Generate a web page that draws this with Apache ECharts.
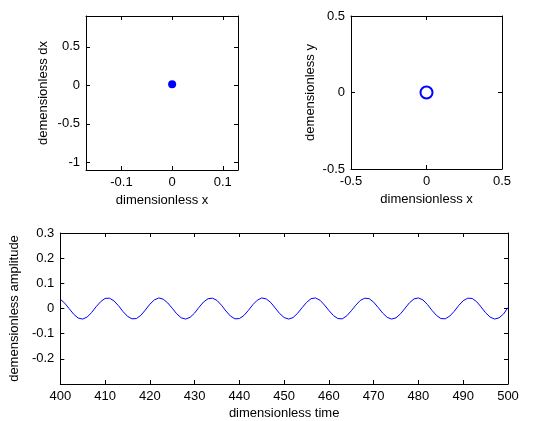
<!DOCTYPE html>
<html>
<head>
<meta charset="utf-8">
<script src="https://cdn.jsdelivr.net/npm/echarts@6/dist/echarts.min.js"></script>
<style>
  html, body { margin: 0; padding: 0; background: #fff; }
  #chart { width: 543px; height: 421px; }
</style>
</head>
<body>
<div id="chart"></div>
<script>
// phase plane (x, dx) - the trajectory sits in one spot
const phasePoint = [[0, 0.015]];
const phaseXTicks = [-0.1, 0, 0.1];
const phaseYTicks = [-1, -0.5, 0, 0.5];

// orbit plane (x, y)
const orbitPoint = [[0, 0]];

// time history at every time unit
const timeValues = [];
for (let t = 400; t <= 500; t++) timeValues.push(t);
const amplitudeValues = [
  0.037, 0.021, -0.001, -0.023, -0.038, -0.042, -0.034, -0.016, 0.007, 0.027,
  0.040, 0.041, 0.030, 0.011, -0.012, -0.031, -0.041, -0.040, -0.027, -0.006,
  0.017, 0.034, 0.042, 0.037, 0.022, 0.001, -0.021, -0.037, -0.042, -0.035,
  -0.018, 0.005, 0.026, 0.039, 0.041, 0.032, 0.013, -0.010, -0.030, -0.041,
  -0.040, -0.028, -0.008, 0.015, 0.033, 0.042, 0.038, 0.024, 0.002, -0.020,
  -0.036, -0.042, -0.036, -0.019, 0.003, 0.024, 0.039, 0.042, 0.033, 0.014,
  -0.008, -0.028, -0.040, -0.041, -0.029, -0.009, 0.013, 0.032, 0.041, 0.039,
  0.025, 0.004, -0.018, -0.035, -0.042, -0.037, -0.021, 0.001, 0.023, 0.038,
  0.042, 0.034, 0.016, -0.007, -0.027, -0.040, -0.041, -0.030, -0.011, 0.012,
  0.031, 0.041, 0.040, 0.027, 0.006, -0.017, -0.034, -0.042, -0.037, -0.022,
  0.004
];
const ampTicks = [-0.2, -0.1, 0, 0.1, 0.2, 0.3];

const blue = "#0000ff";
const font = "Liberation Sans, Arial, sans-serif";

const chart = echarts.init(document.getElementById("chart"), null, { renderer: "canvas" });

function axis(opts) {
  // matlab style box axis: black line, ticks pointing in
  return Object.assign({
    type: "value",
    axisLine: { onZero: false, lineStyle: { color: "#000", width: 1 } },
    axisTick: { inside: true, length: 4, lineStyle: { color: "#000" } },
    axisLabel: { color: "#000", fontSize: 13, fontFamily: font, margin: 6 },
    splitLine: { show: false },
    nameLocation: "middle",
    nameTextStyle: { color: "#000", fontSize: 13, fontFamily: font },
  }, opts);
}

function mirror(base, position) {
  return Object.assign({}, base, {
    position: position,
    name: "",
    axisLabel: Object.assign({}, base.axisLabel, { show: false }),
  });
}

const x0 = axis({
  gridIndex: 0, position: "bottom", min: -0.17, max: 0.13,
  axisTick: { inside: true, length: 4, lineStyle: { color: "#000" }, customValues: phaseXTicks },
  axisLabel: { color: "#000", fontSize: 13, fontFamily: font, margin: 6, customValues: phaseXTicks },
  name: "dimensionless x", nameGap: 24,
});
const y0 = axis({
  gridIndex: 0, position: "left", min: -1.1, max: 0.9,
  axisTick: { inside: true, length: 4, lineStyle: { color: "#000" }, customValues: phaseYTicks },
  axisLabel: { color: "#000", fontSize: 13, fontFamily: font, margin: 6, customValues: phaseYTicks },
  name: "demensionless dx", nameGap: 36,
});
const x1 = axis({
  gridIndex: 1, position: "bottom", min: -0.5, max: 0.5, interval: 0.5,
  name: "dimensionless x", nameGap: 24,
});
const y1 = axis({
  gridIndex: 1, position: "left", min: -0.5, max: 0.5, interval: 0.5,
  name: "demensionless y", nameGap: 34,
});
const x2 = axis({
  gridIndex: 2, position: "bottom", min: 400, max: 500, interval: 10,
  name: "dimensionless time", nameGap: 23,
});
const y2 = axis({
  gridIndex: 2, position: "left", min: -0.3, max: 0.3,
  axisTick: { inside: true, length: 4, lineStyle: { color: "#000" }, customValues: ampTicks },
  axisLabel: { color: "#000", fontSize: 13, fontFamily: font, margin: 6, customValues: ampTicks },
  name: "demensionless amplitude", nameGap: 35,
});

const option = {
  animation: false,
  backgroundColor: "#fff",
  grid: [
    { left: 86, top: 16, width: 152, height: 154 },
    { left: 351, top: 16, width: 151, height: 153 },
    { left: 60, top: 233, width: 448, height: 153 },
  ],
  xAxis: [x0, mirror(x0, "top"), x1, mirror(x1, "top"), x2, mirror(x2, "top")],
  yAxis: [y0, mirror(y0, "right"), y1, mirror(y1, "right"), y2, mirror(y2, "right")],
  series: [
    {
      type: "scatter", xAxisIndex: 0, yAxisIndex: 0,
      data: phasePoint, symbol: "circle", symbolSize: 8,
      itemStyle: { color: blue, opacity: 1 },
    },
    {
      type: "scatter", xAxisIndex: 2, yAxisIndex: 2,
      data: orbitPoint, symbol: "emptyCircle", symbolSize: 12,
      itemStyle: { color: blue, borderColor: blue, borderWidth: 2.5, opacity: 1 },
    },
    {
      type: "line", xAxisIndex: 4, yAxisIndex: 4,
      data: timeValues.map((t, i) => [t, amplitudeValues[i]]),
      showSymbol: false,
      lineStyle: { color: blue, width: 1 },
    },
  ],
};

chart.setOption(option);
</script>
</body>
</html>
